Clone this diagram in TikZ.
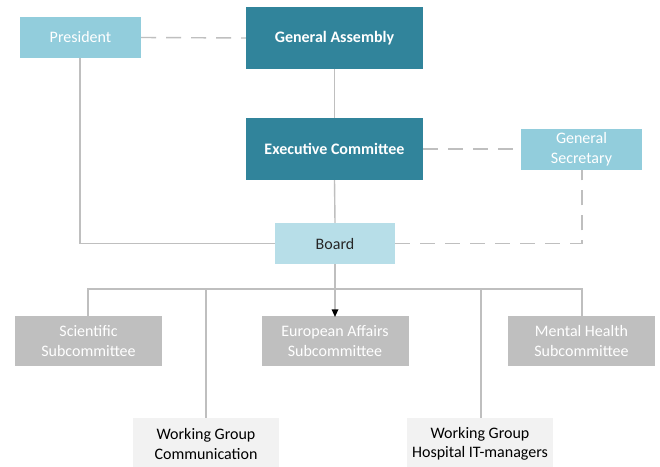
\documentclass[tikz,border=0pt]{standalone}
\usepackage{fontspec}
\setmainfont{Carlito}
\usetikzlibrary{arrows.meta}
\definecolor{teal}{HTML}{31849B}
\definecolor{lblue}{HTML}{92CDDC}
\definecolor{pblue}{HTML}{B7DEE8}
\definecolor{gbox}{HTML}{BFBFBF}
\definecolor{wbox}{HTML}{F2F2F2}
\definecolor{lgray}{HTML}{BFBFBF}
\definecolor{ink}{HTML}{262626}
\tikzset{
  box/.style={rectangle, inner sep=0pt, align=center, font=\fontsize{16}{19.5}\selectfont},
  darkbox/.style={box, fill=teal, text=white, font=\fontsize{16}{19.5}\selectfont\bfseries, minimum width=177pt, minimum height=62pt},
  lightbox/.style={box, fill=lblue, text=white, minimum width=121pt, minimum height=41pt},
  boardbox/.style={box, fill=pblue, text=ink, minimum width=120pt, minimum height=41pt},
  subbox/.style={box, fill=gbox, text=white, minimum width=147pt, minimum height=50pt},
  wgbox/.style={box, fill=wbox, text=black, minimum width=146pt, minimum height=52pt},
  conn/.style={draw=lgray, line width=1.4pt},
  dconn/.style={draw=lgray, line width=1.4pt, dash pattern=on 15pt off 10pt},
}
\begin{document}
\begin{tikzpicture}[x=1pt,y=-1pt]
\useasboundingbox (0,0) rectangle (660,466);
\fill[white] (0,0) rectangle (660,466);
\node[lightbox] (pres) at (80.5,37.5) {President};
\node[darkbox] (ga) at (334.5,38) {General Assembly};
\node[darkbox] (ec) at (334.5,149) {Executive Committee};
\node[lightbox] (gs) at (581.5,149) {General\\Secretary};
\node[boardbox] (board) at (335,243.5) {Board};
\node[subbox] (sci) at (88.5,341) {Scientific\\Subcommittee};
\node[subbox] (eu) at (335,341) {European Affairs\\Subcommittee};
\node[subbox] (mh) at (581.5,341) {Mental Health\\Subcommittee};
\node[wgbox] (wgc) at (206,444) {Working Group\\Communication};
\node[wgbox] (wgh) at (480,444) {Working Group\\Hospital IT-managers};
\coordinate (bl) at (88,289);
\coordinate (br) at (582,289);
\coordinate (gscorner) at (582,243.5);
\draw[dconn] (pres.east) -- (ga.west);
\draw[dconn] (ec.east) -- (gs.west);
\draw[conn] (ga.south) -- (ec.north);
\draw[conn] (ec.south) -- (board.north);
\draw[conn] (pres.south -| 80,0) |- (board.west);
\draw[dconn] (board.east) -- (gscorner) -- (gs.south -| gscorner);
\draw[conn] (sci.north -| bl) -- (bl) -- (br) -- (mh.north -| br);
\draw[conn] (wgc.north) -- (wgc.north |- bl);
\draw[conn] (wgh.north -| 481,0) -- (481,289);
\draw[conn] (board.south) -- ([yshift=-6pt]eu.north);
\draw[draw=none, fill=black] ([shift={(-3.5,-6.5)}]eu.north) -- ([shift={(3.5,-6.5)}]eu.north) -- ([yshift=-1pt]eu.north) -- cycle;
\end{tikzpicture}
\end{document}
